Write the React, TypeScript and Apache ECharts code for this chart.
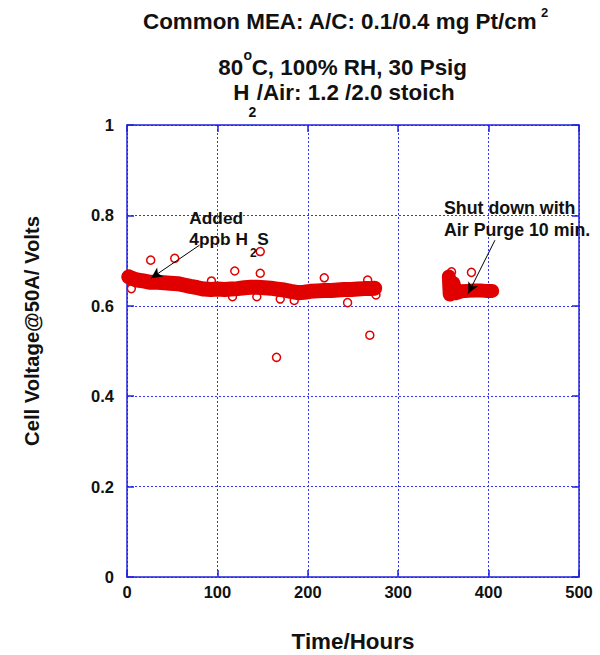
import { useEffect, useRef } from "react";
import * as echarts from "echarts";

// Dense logged data, drawn as a band (centre line of the overlapping circles)
const bandHoursA = [2, 5, 11, 18, 26, 34, 41, 48, 56, 63, 70, 78, 85, 93, 100, 108, 115, 122, 130, 137, 144, 152, 159, 166, 174, 181, 189, 196, 203, 211, 218, 226, 233, 240, 248, 255, 262, 268, 274];
const bandVoltsA = [0.664, 0.661, 0.657, 0.655, 0.652, 0.652, 0.651, 0.650, 0.649, 0.646, 0.643, 0.640, 0.637, 0.636, 0.637, 0.636, 0.637, 0.638, 0.640, 0.641, 0.641, 0.640, 0.639, 0.637, 0.635, 0.632, 0.629, 0.630, 0.632, 0.633, 0.634, 0.634, 0.635, 0.636, 0.636, 0.637, 0.638, 0.638, 0.639];
const bandHoursB = [356, 357, 361, 364, 370, 377, 384, 391, 397, 404];
const bandVoltsB = [0.665, 0.625, 0.650, 0.628, 0.632, 0.633, 0.634, 0.634, 0.633, 0.633];

// Individually visible circles
const pointHours = [4.8, 26.2, 52.8, 93.4, 116.7, 119.2, 143.6, 147.4, 147.4, 165.4, 169.5, 185, 218.2, 244, 266.2, 268.6, 275.4, 359, 381];
const pointVolts = [0.638, 0.701, 0.705, 0.655, 0.620, 0.677, 0.62, 0.672, 0.72, 0.486, 0.615, 0.612, 0.662, 0.607, 0.657, 0.535, 0.624, 0.675, 0.674];

// Annotation arrows: [hours, volts] tail -> head
const arrowTails = [[80.1, 0.734], [407, 0.745]];
const arrowHeads = [[26.6, 0.661], [377.4, 0.627]];

const xMin = 0, xMax = 500, xStep = 100;
const yMin = 0, yMax = 1, yStep = 0.2;

const FONT = '"Liberation Sans", Arial, Helvetica, sans-serif';
const BLUE = "#2222e0";
const GRID_BLUE = "#3333ff";
const RED = "#e00000";

function txt(text: string, x: number, y: number, size: number, opts: any = {}) {
  const align = opts.align || "left";
  return {
    type: "text",
    x,
    y,
    rotation: opts.rotation || 0,
    silent: true,
    z: 10,
    style: {
      text,
      fill: "#111",
      font: `bold ${size}px ${FONT}`,
      textAlign: align,
      align,
      textVerticalAlign: "middle",
      verticalAlign: "middle",
    },
  };
}

export default function App() {
  const ref = useRef<HTMLDivElement>(null);
  useEffect(() => {
    if (!ref.current) return;
    const chart = echarts.init(ref.current, undefined, { renderer: "svg" });
    const axisLine = { show: true, onZero: false, lineStyle: { color: BLUE, width: 1.5 } };
    const axisTick = { show: true, inside: true, length: 7, lineStyle: { color: BLUE, width: 1.5 } };
    const label = { color: "#111", fontSize: 16.5, fontWeight: "bold", fontFamily: FONT };
    const split = { show: true, lineStyle: { color: GRID_BLUE, type: [2, 2], width: 1 } };
    chart.setOption({
      animation: false,
      grid: { left: 127, right: 21, top: 125, bottom: 78 },
      xAxis: [
        { type: "value", min: xMin, max: xMax, interval: xStep, position: "bottom", axisLine, axisTick, axisLabel: { ...label, margin: 6 }, splitLine: split },
        { type: "value", min: xMin, max: xMax, interval: xStep, position: "top", axisLine, axisTick, axisLabel: { show: false }, splitLine: { show: false } },
      ],
      yAxis: [
        {
          type: "value", min: yMin, max: yMax, interval: yStep, position: "left", axisLine, axisTick,
          axisLabel: { ...label, margin: 13, formatter: (v: number) => (v === 0 || v === 1 ? String(v) : v.toFixed(1)) },
          splitLine: split,
        },
        { type: "value", min: yMin, max: yMax, interval: yStep, position: "right", axisLine, axisTick, axisLabel: { show: false }, splitLine: { show: false } },
      ],
      series: [
        {
          type: "line", name: "bandA", clip: false, z: 2, symbol: "none",
          data: bandHoursA.map((h, i) => [h, bandVoltsA[i]]),
          lineStyle: { color: RED, width: 15, cap: "round", join: "round" },
        },
        {
          type: "line", name: "bandB", clip: false, z: 2, symbol: "none",
          data: bandHoursB.map((h, i) => [h, bandVoltsB[i]]),
          lineStyle: { color: RED, width: 14, cap: "round", join: "round" },
        },
        {
          type: "scatter", name: "points", z: 3, symbol: "circle", symbolSize: 8,
          data: pointHours.map((h, i) => [h, pointVolts[i]]),
          itemStyle: { color: "rgba(255,255,255,0)", borderColor: RED, borderWidth: 1.5, opacity: 1 },
          markLine: {
            silent: true,
            animation: false,
            symbol: ["none", "arrow"],
            symbolSize: [8, 11],
            label: { show: false },
            lineStyle: { color: "#000", width: 1, type: "solid" },
            data: arrowTails.map((t, i) => [{ coord: t }, { coord: arrowHeads[i] }]),
          },
        },
      ],
      graphic: [
        txt("Common MEA: A/C: 0.1/0.4 mg Pt/cm", 143, 21, 22.4),
        txt("2", 541, 12, 13),
        txt("80", 218.3, 67.5, 22.4),
        txt("o", 243.5, 55, 14),
        txt("C, 100% RH, 30 Psig", 251.7, 67.5, 22.4),
        txt("H", 233.3, 92, 22.4),
        txt("2", 248.5, 112, 14),
        txt("/Air: 1.2 /2.0 stoich", 256.7, 92, 22.4),
        txt("Added", 189.3, 217.8, 17.3),
        txt("4ppb H", 189.3, 239.2, 17.3),
        txt("2", 250, 252.5, 12),
        txt("S", 257.3, 239.2, 17.3),
        txt("Shut down with", 444, 208.3, 17.8),
        txt("Air Purge 10 min.", 444, 229.5, 17.8),
        txt("Time/Hours", 353, 641.3, 22.4, { align: "center" }),
        txt("Cell Voltage@50A/ Volts", 32, 331, 20.2, { align: "center", rotation: Math.PI / 2 }),
      ],
    });
    return () => chart.dispose();
  }, []);
  return <div ref={ref} style={{ position: "fixed", left: 0, top: 0, width: 600, height: 655, background: "#fff" }} />;
}
